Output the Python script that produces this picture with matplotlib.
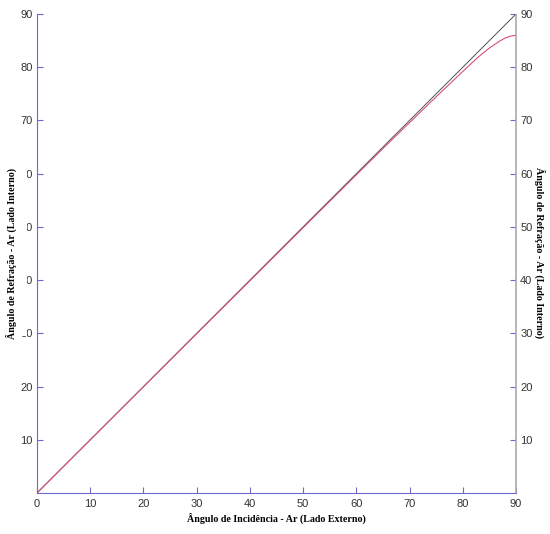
import matplotlib.pyplot as plt
from matplotlib.patches import Rectangle

# incidence angle (deg) and read-off refraction angles
incidencia = [0, 10, 20, 30, 40, 50, 60, 65, 70, 75, 80, 83, 85, 87, 88, 89, 90]
refracao = [0, 9.98, 19.95, 29.92, 39.88, 49.84, 59.78, 64.72, 69.6, 74.45, 79.2,
            82.0, 83.6, 84.95, 85.5, 85.85, 86.0]
identidade = [0, 90]
yticks = [10, 20, 30, 40, 50, 60, 70, 80, 90]
xticks = [0, 10, 20, 30, 40, 50, 60, 70, 80, 90]

plt.rcParams['font.family'] = 'Liberation Sans'

fig = plt.figure(figsize=(5.5, 5.34), dpi=100)
ax = fig.add_axes([37 / 550, 1 - 493 / 534, 479 / 550, 479 / 534])

ax.plot(identidade, identidade, color='#505050', lw=0.7)
ax.plot(incidencia, refracao, color='#d8507a', lw=0.8)

ax.set_xlim(0, 90)
ax.set_ylim(0, 90)
ax.set_xticks(xticks)
ax.set_yticks(yticks)

blue = '#6a6ad0'
ax.spines['top'].set_visible(False)
ax.spines['left'].set_color(blue)
ax.spines['left'].set_linewidth(0.8)
ax.spines['bottom'].set_color(blue)
ax.spines['bottom'].set_linestyle((0, (2, 1)))
ax.spines['bottom'].set_linewidth(0.8)
ax.spines['right'].set_color('#aaaaaa')
ax.spines['right'].set_linestyle((0, (1, 1)))
ax.spines['right'].set_linewidth(1.2)

ax.tick_params(direction='in', length=4, color=blue, labelsize=8, labelcolor='#333333',
               right=True, labelright=True, pad=3)
ax.tick_params(axis='x', pad=4)

ax.set_xlabel('Ângulo de Incidência - Ar (Lado Externo)', family='Liberation Serif',
              fontweight='bold', fontsize=7.2, labelpad=3)

# left label sits over the tick labels and hides part of them
fig.add_artist(Rectangle((0, 1 - 336 / 534), 27 / 550, 170 / 534, transform=fig.transFigure,
                         facecolor='white', edgecolor='none', zorder=5))
fig.text(11 / 550, 1 - 253 / 534, 'Ângulo de Refração - Ar (Lado Interno)', rotation=90,
         ha='center', va='center', family='Liberation Serif', fontweight='bold',
         fontsize=7.2, zorder=6)
fig.text(540 / 550, 1 - 253 / 534, 'Ângulo de Refração - Ar (Lado Interno)', rotation=-90,
         ha='center', va='center', family='Liberation Serif', fontweight='bold',
         fontsize=7.2, zorder=6)

fig.savefig('out.png', dpi=100)
